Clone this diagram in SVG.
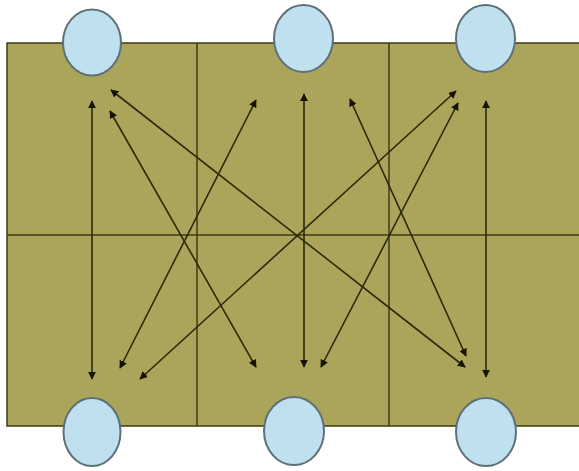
<svg xmlns="http://www.w3.org/2000/svg" width="579" height="471" viewBox="0 0 579 471">
<style>
.grid{fill:none;stroke:#3d3d12;stroke-width:1.5}
.board{fill:#aaa55a;stroke:#3d3d12;stroke-width:1.5}
.node{fill:#bfe0ee;stroke:#5f6f78;stroke-width:2}
.arr{stroke:#2a2a08;stroke-width:1.6;fill:none;marker-start:url(#ah);marker-end:url(#ah)}
</style>
<defs>
<marker id="ah" viewBox="0 0 10 10" refX="9" refY="5" markerWidth="5" markerHeight="5" orient="auto-start-reverse">
<path d="M0,0 L10,5 L0,10 z" fill="#141400"/>
</marker>
</defs>
<rect width="579" height="471" fill="#ffffff"/>
<g id="board">
<rect class="board" x="7" y="43" width="580" height="383"/>
<line class="grid" x1="197" y1="43" x2="197" y2="426"/>
<line class="grid" x1="389" y1="43" x2="389" y2="426"/>
<line class="grid" x1="7" y1="235" x2="579" y2="235"/>
</g>
<g id="connectors">
<line class="arr" x1="92" y1="101" x2="92" y2="379"/>
<line class="arr" x1="304" y1="94" x2="304" y2="367"/>
<line class="arr" x1="486" y1="101" x2="486" y2="377"/>
<line class="arr" x1="111" y1="90" x2="465" y2="367"/>
<line class="arr" x1="110" y1="111" x2="256" y2="367"/>
<line class="arr" x1="256" y1="100" x2="120" y2="368"/>
<line class="arr" x1="350" y1="99" x2="466" y2="356"/>
<line class="arr" x1="456" y1="91" x2="140" y2="379"/>
<line class="arr" x1="458" y1="103" x2="321" y2="367"/>
</g>
<g id="n1"><ellipse class="node" cx="92" cy="42.5" rx="29" ry="33"/></g>
<g id="n2"><ellipse class="node" cx="303.5" cy="38.5" rx="29.5" ry="33.5"/></g>
<g id="n3"><ellipse class="node" cx="485.5" cy="38.5" rx="29.5" ry="33.5"/></g>
<g id="n4"><ellipse class="node" cx="92" cy="432" rx="28.5" ry="34"/></g>
<g id="n5"><ellipse class="node" cx="294" cy="431" rx="30" ry="34"/></g>
<g id="n6"><ellipse class="node" cx="486" cy="432" rx="30" ry="34"/></g>
</svg>
